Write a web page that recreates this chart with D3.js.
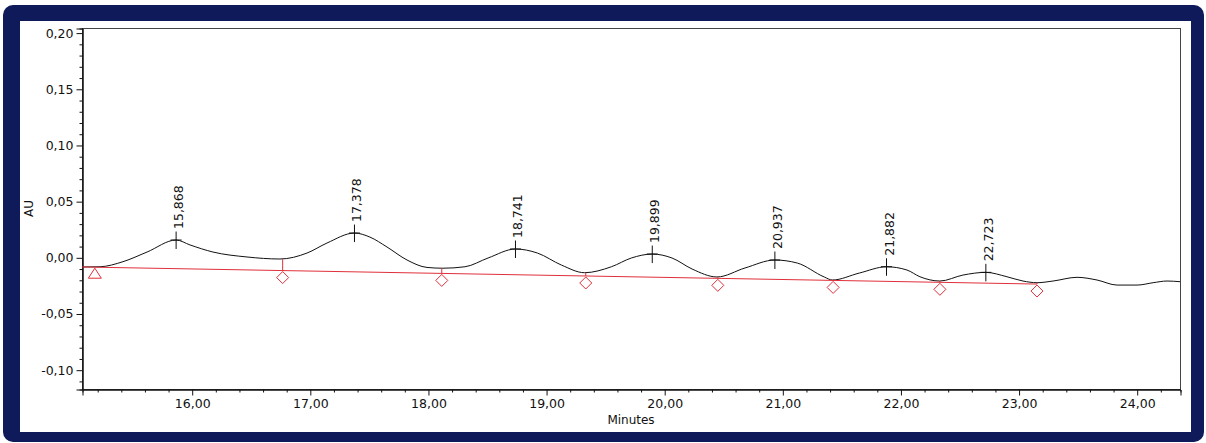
<!DOCTYPE html>
<html>
<head>
<meta charset="utf-8">
<script src="https://cdn.jsdelivr.net/npm/d3@7"></script>
<style>
  html, body { margin: 0; padding: 0; background: #ffffff; }
  svg { display: block; font-family: "DejaVu Sans", Verdana, sans-serif; }
</style>
</head>
<body>
<svg id="chart" width="1206" height="443"></svg>
<script>
// Detector trace: retention time (minutes) and absorbance (AU)
const traceTimes = [15.071, 15.224, 15.418, 15.622, 15.868, 15.986, 16.180, 16.468, 16.747, 16.976,
  17.145, 17.378, 17.509, 17.653, 17.823, 17.992, 18.127, 18.314, 18.509, 18.741,
  18.927, 19.130, 19.325, 19.553, 19.722, 19.899, 20.066, 20.236, 20.447, 20.684,
  20.937, 21.127, 21.355, 21.423, 21.652, 21.882, 22.055, 22.165, 22.334, 22.529,
  22.723, 22.902, 23.037, 23.156, 23.292, 23.495, 23.664, 23.834, 24.003, 24.139,
  24.257, 24.367];
const traceValues = [-0.0086, -0.0084, -0.0039, 0.0047, 0.0154, 0.0110, 0.0047, 0.0003, -0.0015, 0.0038,
  0.0127, 0.0216, 0.0180, 0.0092, -0.0024, -0.0090, -0.0097, -0.0084, -0.0006, 0.0074,
  0.0038, -0.0069, -0.0137, -0.0084, -0.0006, 0.0029, -0.0006, -0.0104, -0.0175, -0.0095,
  -0.0024, -0.0051, -0.0175, -0.0202, -0.0140, -0.0084, -0.0113, -0.0173, -0.0211, -0.0158,
  -0.0134, -0.0173, -0.0211, -0.0226, -0.0211, -0.0178, -0.0202, -0.0247, -0.0247, -0.0226,
  -0.0211, -0.0217];

// Integrated peaks: apex retention time, apex height, label
const peakTimes = [15.868, 17.378, 18.741, 19.899, 20.937, 21.882, 22.723];
const peakHeights = [0.0154, 0.0216, 0.0074, 0.0029, -0.0024, -0.0084, -0.0134];
const peakLabels = ["15,868", "17,378", "18,741", "19,899", "20,937", "21,882", "22,723"];

// Integration baseline (start and end)
const baselineTimes = [15.18, 23.156];
const baselineValues = [-0.0088, -0.0238];

// Valley drop points between peaks (time, trace value)
const valleyTimes = [16.77, 18.117, 19.336, 20.454, 21.43, 22.334, 23.156];
const valleyValues = [-0.0016, -0.0097, -0.0137, -0.0175, -0.0202, -0.0211, -0.0226];

// Axis ticks
const xMajorTicks = [16, 17, 18, 19, 20, 21, 22, 23, 24];
const yMajorTicks = [-0.10, -0.05, 0.00, 0.05, 0.10, 0.15, 0.20];

const plot = { left: 82, top: 28, right: 1180, bottom: 389 };

const svg = d3.select("#chart");

// Window frame
svg.append("rect").attr("x", 3).attr("y", 5).attr("width", 1201).attr("height", 437)
  .attr("rx", 10).attr("ry", 10).attr("fill", "#0e1a5a");
svg.append("rect").attr("x", 20).attr("y", 21).attr("width", 1171).attr("height", 411)
  .attr("fill", "#ffffff");

const x = d3.scaleLinear().domain([15.0713, 24.3666]).range([plot.left, plot.right]);
const y = d3.scaleLinear().domain([-0.1172, 0.2041]).range([plot.bottom, plot.top]);

const locale = d3.formatLocale({ decimal: ",", thousands: ".", grouping: [3], currency: ["", ""], minus: "-" });
const fmt = locale.format(".2f");

const xMinor = d3.range(15.2, 24.37, 0.2).filter(t => Math.abs(t - Math.round(t)) > 0.01);
const yMinor = d3.range(-0.11, 0.2041, 0.01).filter(v => Math.abs(v * 20 - Math.round(v * 20)) > 0.01);

// Plot border
svg.append("rect")
  .attr("x", plot.left + 0.5).attr("y", plot.top + 0.5)
  .attr("width", plot.right - plot.left).attr("height", plot.bottom - plot.top)
  .attr("fill", "none").attr("stroke", "#444").attr("stroke-width", 1);

// Y axis
const yAxis = d3.axisLeft(y).tickValues(yMajorTicks).tickFormat(fmt).tickSize(6).tickPadding(3);
const gy = svg.append("g").attr("transform", `translate(${plot.left + 0.5},0.5)`).call(yAxis);
const yAxisMinor = d3.axisLeft(y).tickValues(yMinor).tickFormat("").tickSize(3);
const gy2 = svg.append("g").attr("transform", `translate(${plot.left + 0.5},0.5)`).call(yAxisMinor);

// X axis
const xAxis = d3.axisBottom(x).tickValues(xMajorTicks).tickFormat(fmt).tickSize(6).tickPadding(4);
const gx = svg.append("g").attr("transform", `translate(0.5,${plot.bottom + 0.5})`).call(xAxis);
const xAxisMinor = d3.axisBottom(x).tickValues(xMinor).tickFormat("").tickSize(3);
const gx2 = svg.append("g").attr("transform", `translate(0.5,${plot.bottom + 0.5})`).call(xAxisMinor);

[gy, gy2, gx, gx2].forEach(g => {
  g.select(".domain").attr("stroke", "#111");
  g.selectAll(".tick line").attr("stroke", "#111");
  g.selectAll(".tick text").attr("fill", "#111").attr("font-size", 12.5)
    .attr("font-family", "'DejaVu Sans', Verdana, sans-serif");
});

// Axis titles
svg.append("text").attr("x", (plot.left + plot.right) / 2).attr("y", 424)
  .attr("text-anchor", "middle").attr("font-size", 12).attr("fill", "#111").text("Minutes");
svg.append("text")
  .attr("transform", `translate(33,${(plot.top + plot.bottom) / 2}) rotate(-90)`)
  .attr("text-anchor", "middle").attr("font-size", 12).attr("fill", "#111").text("AU");

svg.append("clipPath").attr("id", "plot-clip").append("rect")
  .attr("x", plot.left).attr("y", plot.top)
  .attr("width", plot.right - plot.left).attr("height", plot.bottom - plot.top);

const chartG = svg.append("g").attr("clip-path", "url(#plot-clip)");

// Trace
const tracePts = traceTimes.map((t, i) => [t, traceValues[i]]);
const line = d3.line().x(d => x(d[0])).y(d => y(d[1])).curve(d3.curveMonotoneX);
chartG.append("path").datum(tracePts).attr("d", line)
  .attr("fill", "none").attr("stroke", "#111").attr("stroke-width", 1);

// Baseline
const red = "#e0303a";
const baseAt = d3.scaleLinear().domain(baselineTimes).range(baselineValues);
const basePts = [[x.domain()[0], baseAt(x.domain()[0])], [baselineTimes[1], baselineValues[1]]];
chartG.append("path").datum(basePts)
  .attr("d", d3.line().x(d => x(d[0])).y(d => y(d[1])))
  .attr("fill", "none").attr("stroke", red).attr("stroke-width", 1);

// Drop lines and valley markers
valleyTimes.forEach((t, i) => {
  const px = x(t), y1 = y(valleyValues[i]), y2 = y(baseAt(t));
  chartG.append("line").attr("x1", px).attr("x2", px).attr("y1", y1).attr("y2", y2)
    .attr("stroke", red).attr("stroke-width", 1);
  const cy = y2 + 7;
  chartG.append("path")
    .attr("d", `M${px},${cy - 6}L${px + 6},${cy}L${px},${cy + 6}L${px - 6},${cy}Z`)
    .attr("fill", "none").attr("stroke", red).attr("stroke-width", 1);
});

// Baseline start marker
{
  const px = x(baselineTimes[0]), py = y(baselineValues[0]);
  chartG.append("path")
    .attr("d", `M${px},${py + 1}L${px + 6.5},${py + 11}L${px - 6.5},${py + 11}Z`)
    .attr("fill", "none").attr("stroke", red).attr("stroke-width", 1);
}

// Peak apex markers and retention time labels
peakTimes.forEach((t, i) => {
  const px = x(t), py = y(peakHeights[i]);
  chartG.append("line").attr("x1", px).attr("x2", px).attr("y1", py - 8.5).attr("y2", py + 9)
    .attr("stroke", "#111").attr("stroke-width", 1);
  chartG.append("line").attr("x1", px - 5.5).attr("x2", px + 5.5).attr("y1", py).attr("y2", py)
    .attr("stroke", "#111").attr("stroke-width", 1);
  svg.append("text")
    .attr("transform", `translate(${px + 7},${py - 11}) rotate(-90)`)
    .attr("font-size", 12.5).attr("fill", "#111").text(peakLabels[i]);
});
</script>
</body>
</html>
